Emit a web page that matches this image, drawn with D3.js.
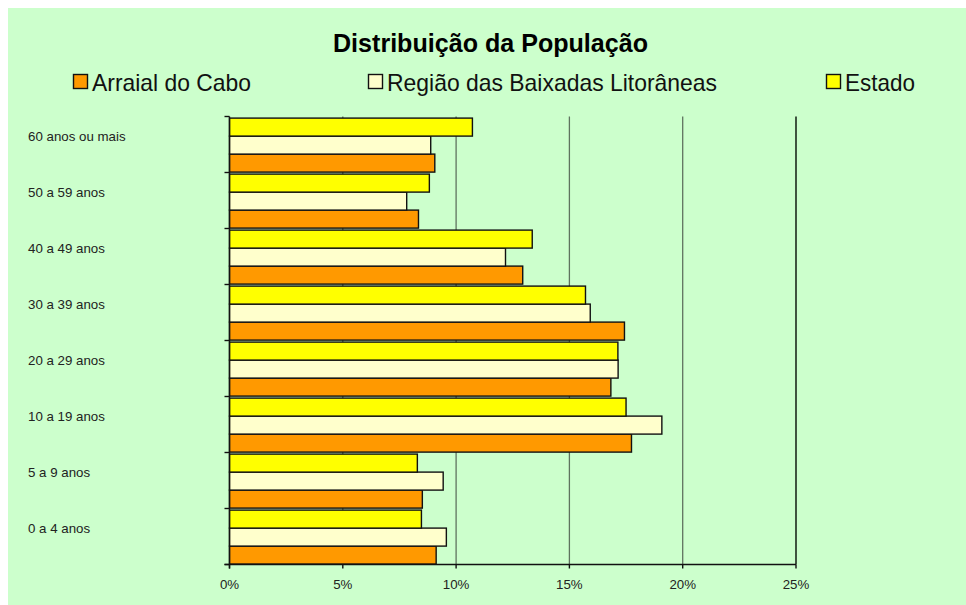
<!DOCTYPE html>
<html><head><meta charset="utf-8">
<script src="https://cdn.jsdelivr.net/npm/d3@7"></script>
<style>body{margin:0;background:#fff}svg{display:block;font-family:"Liberation Sans",Arial,sans-serif}</style>
</head><body><div id="chart"></div>
<script>
const categories = ["60 anos ou mais","50 a 59 anos","40 a 49 anos","30 a 39 anos","20 a 29 anos","10 a 19 anos","5 a 9 anos","0 a 4 anos"];
const seriesNames = ["Arraial do Cabo","Região das Baixadas Litorâneas","Estado"];
const arraial = [9.06, 8.34, 12.94, 17.43, 16.83, 17.74, 8.51, 9.12];
const regiao  = [8.88, 7.82, 12.18, 15.92, 17.15, 19.08, 9.43, 9.57];
const estado  = [10.72, 8.82, 13.36, 15.71, 17.14, 17.50, 8.29, 8.47];
const xTicks = [0,5,10,15,20,25];
const colors = ["#FF9900","#FFFFCC","#FFFF00"];
const title = "Distribuição da População";

const W = 966, H = 605;
const svg = d3.select("#chart").append("svg").attr("width", W).attr("height", H);
svg.append("rect").attr("x",0).attr("y",0).attr("width",W).attr("height",H).attr("fill","#fff");
svg.append("rect").attr("x",8).attr("y",8).attr("width",W-8).attr("height",H-8).attr("fill","#CCFFCC");

const x = d3.scaleLinear().domain([0,25]).range([229.5,796]);
const y = d3.scaleBand().domain(categories).range([116.5,564.5]).padding(0);
// within band: Estado on top, then Região, then Arraial
const inner = d3.scaleBand().domain(["Estado","Região das Baixadas Litorâneas","Arraial do Cabo"]).range([1.6, y.bandwidth()-0.4]).padding(0);

// gridlines
svg.append("g").selectAll("line").data(xTicks.filter(d=>d>0)).join("line")
  .attr("x1",d=>x(d)).attr("x2",d=>x(d)).attr("y1",y.range()[0]).attr("y2",y.range()[1])
  .attr("stroke",d=>d===25?"#1c2a1c":"#5f735f").attr("stroke-width",d=>d===25?1.6:1.3);

// bars
const seriesData = [
  {name:"Arraial do Cabo", vals:arraial, color:colors[0]},
  {name:"Região das Baixadas Litorâneas", vals:regiao, color:colors[1]},
  {name:"Estado", vals:estado, color:colors[2]}
];
const gBars = svg.append("g");
seriesData.forEach(s=>{
  gBars.append("g").selectAll("rect").data(categories.map((c,i)=>({c, v:s.vals[i]}))).join("rect")
    .attr("x", x(0)).attr("y", d=>y(d.c)+inner(s.name))
    .attr("width", d=>x(d.v)-x(0)).attr("height", inner.bandwidth())
    .attr("fill", s.color).attr("stroke","#111").attr("stroke-width",1.4);
});

// y axis
const yAxisG = svg.append("g");
yAxisG.append("line").attr("x1",x(0)).attr("x2",x(0)).attr("y1",y.range()[0]).attr("y2",y.range()[1]+4).attr("stroke","#111").attr("stroke-width",1.4);
const bounds = categories.map(c=>y(c)).concat([y.range()[1]]);
yAxisG.selectAll("line.t").data(bounds).join("line").attr("class","t")
  .attr("x1",x(0)-5).attr("x2",x(0)).attr("y1",d=>d).attr("y2",d=>d).attr("stroke","#111").attr("stroke-width",1.4);
yAxisG.selectAll("text").data(categories).join("text")
  .attr("x",28).attr("y",d=>y(d)+y.bandwidth()/2-3.4)
  .attr("font-size","13.3px").attr("fill","#222").text(d=>d);

// x axis
const xAxisG = svg.append("g");
xAxisG.append("line").attr("x1",x(0)-5).attr("x2",x(25)).attr("y1",y.range()[1]).attr("y2",y.range()[1]).attr("stroke","#111").attr("stroke-width",1.4);
xAxisG.selectAll("line.t").data(xTicks).join("line").attr("class","t")
  .attr("x1",d=>x(d)).attr("x2",d=>x(d)).attr("y1",y.range()[1]).attr("y2",y.range()[1]+4).attr("stroke","#111").attr("stroke-width",1.4);
xAxisG.selectAll("text").data(xTicks).join("text")
  .attr("x",d=>x(d)).attr("y",589).attr("text-anchor","middle")
  .attr("font-size","13.3px").attr("fill","#222").text(d=>d+"%");

// title
svg.append("text").attr("x",333).attr("y",51.5).attr("font-size","26px").attr("font-weight","bold")
  .attr("fill","#000").attr("textLength",315).attr("lengthAdjust","spacingAndGlyphs").text(title);

// legend
const legendItems = [
  {name:seriesNames[0], color:colors[0], mx:73.5, tx:92, tw:159},
  {name:seriesNames[1], color:colors[1], mx:368.5, tx:387, tw:330},
  {name:seriesNames[2], color:colors[2], mx:826.5, tx:845, tw:70}
];
const lg = svg.append("g");
legendItems.forEach(it=>{
  lg.append("rect").attr("x",it.mx).attr("y",74.5).attr("width",14).attr("height",14)
    .attr("fill",it.color).attr("stroke","#111").attr("stroke-width",1.4);
  lg.append("text").attr("x",it.tx).attr("y",90.5).attr("font-size","24px").attr("fill","#111")
    .attr("textLength",it.tw).attr("lengthAdjust","spacingAndGlyphs").text(it.name);
});
</script></body></html>
